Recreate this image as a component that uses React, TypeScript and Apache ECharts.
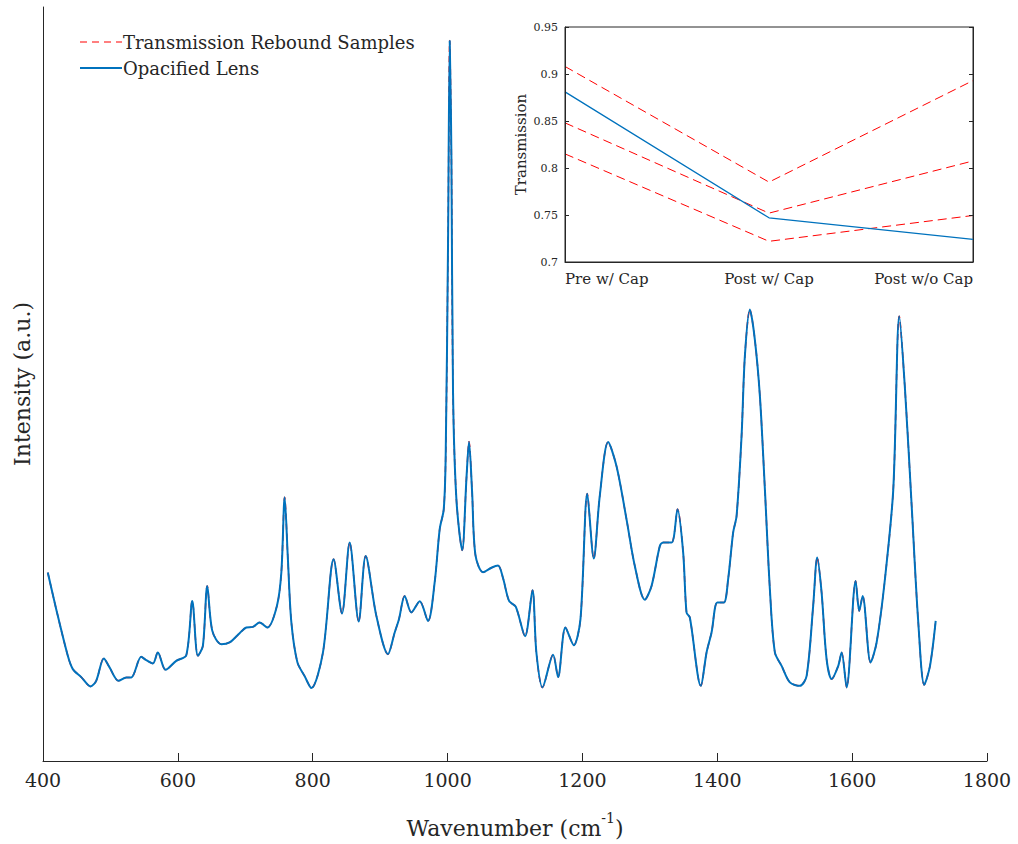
import React, { useEffect, useRef } from "react";
import * as echarts from "echarts";

const wavenumbers = [
  407.1, 419.6, 436.8, 444.2, 456.7, 470.5, 478.9, 490.2, 498.7, 512.0, 523.5, 530.9, 545.7, 553.1, 562.9,
  570.3, 581.8, 597.6, 612.5, 621.4, 629.7, 637.1, 643.6, 651.1, 664.4, 676.7, 691.6, 701.5, 711.3, 721.2,
  732.7, 746.9, 753.5, 758.4, 763.2, 768.3, 777.2, 788.0, 798.0, 815.2, 831.0, 843.4, 854.8, 868.2, 878.5,
  894.4, 911.6, 921.6, 927.9, 936.4, 946.3, 958.7, 971.0, 980.9, 988.3, 994.3, 997.2, 1000.7, 1003.2, 1005.7,
  1008.1, 1013.1, 1021.7, 1028.0, 1031.8, 1036.3, 1041.3, 1052.6, 1065.1, 1074.8, 1082.3, 1091.2, 1101.1,
  1114.9, 1125.9, 1131.7, 1140.7, 1156.5, 1163.9, 1174.8, 1187.2, 1197.1, 1207.2, 1216.8, 1225.7, 1238.1,
  1250.5, 1265.4, 1277.7, 1292.5, 1302.5, 1314.8, 1319.7, 1332.2, 1341.0, 1349.4, 1354.4, 1359.3, 1375.6,
  1384.1, 1391.5, 1400.1, 1409.7, 1416.1, 1423.5, 1428.6, 1436.0, 1440.9, 1448.3, 1455.7, 1463.2, 1470.6,
  1478.0, 1485.4, 1495.4, 1507.7, 1522.5, 1532.5, 1542.2, 1548.2, 1554.7, 1562.1, 1569.6, 1579.4, 1584.4,
  1591.8, 1605.2, 1610.5, 1615.6, 1627.4, 1636.3, 1648.6, 1661.0, 1669.9, 1678.4, 1688.3, 1698.1, 1707.0,
  1715.5, 1723.9,
];

const opacifiedIntensity = [
  188.7, 152, 105.3, 92, 84, 74.7, 80.3, 102.7, 93.7, 80.3, 83.7, 83.7, 104.3, 101, 97.7,
  108.7, 91.3, 100.3, 106, 160.3, 105.3, 115.3, 175.3, 130.3, 117, 118.7, 128, 133.7, 134.3, 138.7,
  133.7, 155.3, 189, 264, 202, 139, 99, 85, 73, 108.7, 202, 147.7, 218.7, 139.7, 205.3,
  145.3, 107, 128.7, 142, 165.3, 148.7, 160, 140.2, 179, 232, 252, 305, 518, 721.3, 604,
  369, 262, 211, 283, 319.6, 270.5, 206.4, 189, 193.5, 195.7, 183, 160.3, 154.5,
  125, 171, 108.7, 73.7, 106.5, 84, 133.7, 116, 142, 267.5, 202.7, 265.3, 319.3,
  295.3, 242, 195.3, 161.5, 175.3, 215.3, 218.7, 218.7, 252, 208.7, 148.7, 143.7, 75.3,
  108.7, 128.7, 158.7, 158.7, 182, 228.7, 245.3, 325.3, 405.3, 452, 422, 365.3, 272,
  172, 108.7, 95.3, 78.7, 75.3, 85.3, 155.3, 203.7, 168.7, 102, 82, 95.3, 108.7,
  73.7, 180.3, 150.3, 165.3, 98.7, 118.7, 182, 272, 445.3, 372, 255.3, 138.7, 76.3,
  95.3, 140.3,
];

const xTickMin = 400;
const xTickMax = 1800;
const xTickStep = 200;

const insetCategories = ["Pre w/ Cap", "Post w/ Cap", "Post w/o Cap"];
const reboundSampleA = [0.908, 0.785, 0.893];
const reboundSampleB = [0.848, 0.752, 0.8075];
const reboundSampleC = [0.815, 0.722, 0.7495];
const opacifiedTransmission = [0.881, 0.747, 0.724];

const FONT = "DejaVu Serif";
const INK = "#262626";
const BLUE = "#0072BD";
const RED = "#ff0000";

export default function App() {
  const ref = useRef<HTMLDivElement>(null);

  useEffect(() => {
    if (!ref.current) return;
    const chart = echarts.init(ref.current, null, { renderer: "svg" });
    const spectrum = wavenumbers.map((w, i) => [w, opacifiedIntensity[i]]);
    const insetDashed = (data: number[], name: string) => ({
      name,
      type: "line",
      xAxisIndex: 1,
      yAxisIndex: 1,
      data,
      symbol: "none",
      lineStyle: { color: RED, width: 1, type: [9, 5] },
      z: 10,
    });

    chart.setOption({
      animation: false,
      backgroundColor: "#ffffff",
      grid: [
        { left: 43, top: 7, right: 31, bottom: 82 },
        {
          left: 565,
          top: 27,
          width: 408,
          height: 235,
          show: true,
          backgroundColor: "#ffffff",
          borderColor: INK,
          borderWidth: 1,
          z: 5,
        },
      ],
      xAxis: [
        {
          type: "value",
          gridIndex: 0,
          min: xTickMin,
          max: xTickMax,
          interval: xTickStep,
          splitLine: { show: false },
          axisLine: { show: true, lineStyle: { color: INK, width: 1 } },
          axisTick: { show: true, inside: true, length: 8, lineStyle: { color: INK } },
          axisLabel: {
            color: INK,
            fontFamily: FONT,
            fontSize: 19,
            margin: 9,
            formatter: (v: number) => String(v),
          },
          name: "{a|Wavenumber (cm}{s|-1}{a|)}",
          nameLocation: "middle",
          nameGap: 50,
          nameTextStyle: {
            rich: {
              a: { fontFamily: FONT, fontSize: 22, color: INK, verticalAlign: "bottom", lineHeight: 28 },
              s: { fontFamily: FONT, fontSize: 14, color: INK, verticalAlign: "top", lineHeight: 28 },
            },
          },
        },
        {
          type: "category",
          gridIndex: 1,
          data: insetCategories,
          boundaryGap: false,
          axisLine: { show: true, lineStyle: { color: INK } },
          axisTick: { show: false },
          splitLine: { show: false },
          axisLabel: {
            color: INK,
            fontFamily: FONT,
            fontSize: 15,
            margin: 9,
            alignMinLabel: "left",
            alignMaxLabel: "right",
          },
          z: 12,
        },
      ],
      yAxis: [
        {
          type: "value",
          gridIndex: 0,
          min: 0,
          max: 755,
          splitLine: { show: false },
          axisLine: { show: true, lineStyle: { color: INK, width: 1 } },
          axisTick: { show: false },
          axisLabel: { show: false },
          name: "Intensity (a.u.)",
          nameLocation: "middle",
          nameGap: 10,
          nameTextStyle: { fontFamily: FONT, fontSize: 22, color: INK },
        },
        {
          type: "value",
          gridIndex: 1,
          min: 0.7,
          max: 0.95,
          interval: 0.05,
          splitLine: { show: false },
          axisLine: { show: true, lineStyle: { color: INK } },
          axisTick: { show: true, inside: true, length: 4, lineStyle: { color: INK } },
          axisLabel: { color: INK, fontFamily: FONT, fontSize: 11, margin: 7 },
          name: "Transmission",
          nameLocation: "middle",
          nameGap: 37,
          nameTextStyle: { fontFamily: FONT, fontSize: 15, color: INK },
          z: 12,
        },
        {
          type: "value",
          gridIndex: 1,
          position: "right",
          min: 0.7,
          max: 0.95,
          interval: 0.05,
          splitLine: { show: false },
          axisLine: { show: true, lineStyle: { color: INK } },
          axisTick: { show: true, inside: true, length: 4, lineStyle: { color: INK } },
          axisLabel: { show: false },
          z: 12,
        },
      ],
      series: [
        {
          name: "Transmission Rebound Samples",
          type: "line",
          xAxisIndex: 0,
          yAxisIndex: 0,
          data: spectrum,
          symbol: "none",
          smooth: 0.3,
          lineStyle: { color: RED, width: 1.5, type: [6, 4] },
          z: 2,
        },
        {
          name: "Opacified Lens",
          type: "line",
          xAxisIndex: 0,
          yAxisIndex: 0,
          data: spectrum,
          symbol: "none",
          smooth: 0.3,
          lineStyle: { color: BLUE, width: 2 },
          z: 3,
        },
        insetDashed(reboundSampleA, "Sample A"),
        insetDashed(reboundSampleB, "Sample B"),
        insetDashed(reboundSampleC, "Sample C"),
        {
          name: "Opacified Inset",
          type: "line",
          xAxisIndex: 1,
          yAxisIndex: 1,
          data: opacifiedTransmission,
          symbol: "none",
          lineStyle: { color: BLUE, width: 1.3 },
          z: 11,
        },
      ],
      graphic: [
        {
          type: "line",
          shape: { x1: 80, y1: 42, x2: 122, y2: 42 },
          style: { stroke: RED, lineWidth: 1.2, lineDash: [7, 5] },
        },
        {
          type: "line",
          shape: { x1: 80, y1: 68, x2: 122, y2: 68 },
          style: { stroke: BLUE, lineWidth: 2 },
        },
        {
          type: "text",
          x: 123,
          y: 42,
          style: {
            text: "Transmission Rebound Samples",
            fontFamily: FONT,
            fontSize: 18,
            fill: INK,
            verticalAlign: "middle",
          },
        },
        {
          type: "text",
          x: 123,
          y: 68,
          style: {
            text: "Opacified Lens",
            fontFamily: FONT,
            fontSize: 18,
            fill: INK,
            verticalAlign: "middle",
          },
        },
      ],
    });
    return () => chart.dispose();
  }, []);

  return (
    <div
      ref={ref}
      style={{ position: "absolute", left: 0, top: 0, width: 1018, height: 844, background: "#fff" }}
    />
  );
}
